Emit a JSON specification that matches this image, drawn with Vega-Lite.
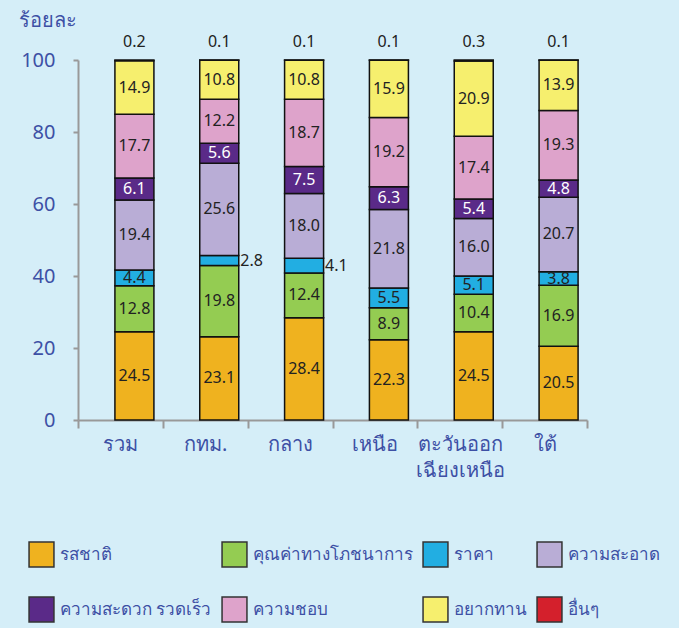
{
  "$schema": "https://vega.github.io/schema/vega-lite/v6.json",
  "width": 509,
  "height": 360,
  "autosize": {"type": "none"},
  "padding": {"left": 78, "top": 60, "right": 92, "bottom": 208},
  "background": "#d5eef8",
  "config": {
    "view": {"stroke": null},
    "font": "Noto Sans",
    "axis": {"labelFont": "Noto Sans", "titleFont": "Noto Sans"}
  },
  "data": {
    "values": [
      {"r": "รวม", "s": "รสชาติ", "v": 24.5},
      {"r": "รวม", "s": "คุณค่าทางโภชนาการ", "v": 12.8},
      {"r": "รวม", "s": "ราคา", "v": 4.4},
      {"r": "รวม", "s": "ความสะอาด", "v": 19.4},
      {"r": "รวม", "s": "ความสะดวก รวดเร็ว", "v": 6.1},
      {"r": "รวม", "s": "ความชอบ", "v": 17.7},
      {"r": "รวม", "s": "อยากทาน", "v": 14.9},
      {"r": "รวม", "s": "อื่นๆ", "v": 0.2},
      {"r": "กทม.", "s": "รสชาติ", "v": 23.1},
      {"r": "กทม.", "s": "คุณค่าทางโภชนาการ", "v": 19.8},
      {"r": "กทม.", "s": "ราคา", "v": 2.8},
      {"r": "กทม.", "s": "ความสะอาด", "v": 25.6},
      {"r": "กทม.", "s": "ความสะดวก รวดเร็ว", "v": 5.6},
      {"r": "กทม.", "s": "ความชอบ", "v": 12.2},
      {"r": "กทม.", "s": "อยากทาน", "v": 10.8},
      {"r": "กทม.", "s": "อื่นๆ", "v": 0.1},
      {"r": "กลาง", "s": "รสชาติ", "v": 28.4},
      {"r": "กลาง", "s": "คุณค่าทางโภชนาการ", "v": 12.4},
      {"r": "กลาง", "s": "ราคา", "v": 4.1},
      {"r": "กลาง", "s": "ความสะอาด", "v": 18.0},
      {"r": "กลาง", "s": "ความสะดวก รวดเร็ว", "v": 7.5},
      {"r": "กลาง", "s": "ความชอบ", "v": 18.7},
      {"r": "กลาง", "s": "อยากทาน", "v": 10.8},
      {"r": "กลาง", "s": "อื่นๆ", "v": 0.1},
      {"r": "เหนือ", "s": "รสชาติ", "v": 22.3},
      {"r": "เหนือ", "s": "คุณค่าทางโภชนาการ", "v": 8.9},
      {"r": "เหนือ", "s": "ราคา", "v": 5.5},
      {"r": "เหนือ", "s": "ความสะอาด", "v": 21.8},
      {"r": "เหนือ", "s": "ความสะดวก รวดเร็ว", "v": 6.3},
      {"r": "เหนือ", "s": "ความชอบ", "v": 19.2},
      {"r": "เหนือ", "s": "อยากทาน", "v": 15.9},
      {"r": "เหนือ", "s": "อื่นๆ", "v": 0.1},
      {"r": "ตะวันออกเฉียงเหนือ", "s": "รสชาติ", "v": 24.5},
      {"r": "ตะวันออกเฉียงเหนือ", "s": "คุณค่าทางโภชนาการ", "v": 10.4},
      {"r": "ตะวันออกเฉียงเหนือ", "s": "ราคา", "v": 5.1},
      {"r": "ตะวันออกเฉียงเหนือ", "s": "ความสะอาด", "v": 16.0},
      {"r": "ตะวันออกเฉียงเหนือ", "s": "ความสะดวก รวดเร็ว", "v": 5.4},
      {"r": "ตะวันออกเฉียงเหนือ", "s": "ความชอบ", "v": 17.4},
      {"r": "ตะวันออกเฉียงเหนือ", "s": "อยากทาน", "v": 20.9},
      {"r": "ตะวันออกเฉียงเหนือ", "s": "อื่นๆ", "v": 0.3},
      {"r": "ใต้", "s": "รสชาติ", "v": 20.5},
      {"r": "ใต้", "s": "คุณค่าทางโภชนาการ", "v": 16.9},
      {"r": "ใต้", "s": "ราคา", "v": 3.8},
      {"r": "ใต้", "s": "ความสะอาด", "v": 20.7},
      {"r": "ใต้", "s": "ความสะดวก รวดเร็ว", "v": 4.8},
      {"r": "ใต้", "s": "ความชอบ", "v": 19.3},
      {"r": "ใต้", "s": "อยากทาน", "v": 13.9},
      {"r": "ใต้", "s": "อื่นๆ", "v": 0.1}
    ]
  },
  "transform": [
    {"calculate": "indexof(['รสชาติ','คุณค่าทางโภชนาการ','ราคา','ความสะอาด','ความสะดวก รวดเร็ว','ความชอบ','อยากทาน','อื่นๆ'], datum.s)", "as": "k"},
    {"stack": "v", "groupby": ["r"], "sort": [{"field": "k", "order": "ascending"}], "as": ["y0", "y1"]},
    {"calculate": "(datum.y0 + datum.y1) / 2", "as": "mid"}
  ],
  "encoding": {
    "x": {
      "field": "r",
      "type": "nominal",
      "sort": ["รวม", "กทม.", "กลาง", "เหนือ", "ตะวันออกเฉียงเหนือ", "ใต้"],
      "scale": {"paddingInner": 0, "paddingOuter": 0},
      "axis": {
        "title": null,
        "labelAngle": 0,
        "labelFontSize": 20,
        "labelColor": "#3d50a5",
        "labelPadding": 6,
        "labelLineHeight": 26,
        "labelExpr": "datum.label == 'ตะวันออกเฉียงเหนือ' ? ['ตะวันออก', 'เฉียงเหนือ'] : datum.label",
        "tickBand": "extent",
        "tickSize": 8,
        "tickColor": "#999",
        "tickWidth": 2,
        "domainColor": "#999",
        "domainWidth": 2
      }
    }
  },
  "layer": [
    {
      "mark": {"type": "bar", "width": 39, "xOffset": 14, "stroke": "#111", "strokeWidth": 1.5},
      "encoding": {
        "y": {
          "field": "y0",
          "type": "quantitative",
          "scale": {"domain": [0, 100]},
          "axis": {
            "title": "ร้อยละ",
            "titleAngle": 0,
            "titleAlign": "left",
            "titleBaseline": "middle",
            "titleX": -60,
            "titleY": -40,
            "titleFontSize": 20,
            "titleFontWeight": "normal",
            "titleColor": "#3d50a5",
            "values": [0, 20, 40, 60, 80, 100],
            "labelFontSize": 20,
            "labelColor": "#3d50a5",
            "labelPadding": 18,
            "tickSize": 5,
            "tickColor": "#999",
            "tickWidth": 2,
            "domainColor": "#999",
            "domainWidth": 2,
            "grid": false
          }
        },
        "y2": {"field": "y1"},
        "color": {
          "field": "s",
          "type": "nominal",
          "scale": {
            "domain": ["รสชาติ", "คุณค่าทางโภชนาการ", "ราคา", "ความสะอาด", "ความสะดวก รวดเร็ว", "ความชอบ", "อยากทาน", "อื่นๆ"],
            "range": ["#efb21f", "#94cc52", "#22aee2", "#b9add6", "#5a2a88", "#dea3cb", "#f6ef6e", "#d4202c"]
          },
          "legend": {
            "title": null,
            "orient": "none",
            "direction": "horizontal",
            "legendX": -50,
            "legendY": 481,
            "columns": 4,
            "symbolType": "square",
            "symbolSize": 620,
            "symbolStrokeColor": "#333",
            "symbolStrokeWidth": 1.5,
            "labelFontSize": 17,
            "labelColor": "#3d50a5",
            "labelOffset": 5,
            "columnPadding": 7,
            "rowPadding": 24,
            "labelLimit": 300
          }
        }
      }
    },
    {
      "transform": [
        {"filter": "datum.s != 'อื่นๆ' && !(datum.s == 'ราคา' && (datum.r == 'กทม.' || datum.r == 'กลาง'))"}
      ],
      "mark": {"type": "text", "xOffset": 14, "fontSize": 16, "baseline": "middle", "align": "center"},
      "encoding": {
        "y": {"field": "mid", "type": "quantitative"},
        "text": {"field": "v", "type": "quantitative", "format": ".1f"},
        "color": {"condition": {"test": "datum.s == 'ความสะดวก รวดเร็ว'", "value": "#ffffff"}, "value": "#222222"}
      }
    },
    {
      "transform": [
        {"filter": "datum.s == 'ราคา' && (datum.r == 'กทม.' || datum.r == 'กลาง')"}
      ],
      "mark": {"type": "text", "xOffset": 35, "fontSize": 16, "baseline": "middle", "align": "left", "color": "#222222"},
      "encoding": {
        "y": {"field": "mid", "type": "quantitative"},
        "text": {"field": "v", "type": "quantitative", "format": ".1f"}
      }
    },
    {
      "transform": [{"filter": "datum.s == 'อื่นๆ'"}],
      "mark": {"type": "text", "xOffset": 14, "dy": -18, "fontSize": 16, "baseline": "middle", "align": "center", "color": "#222222"},
      "encoding": {
        "y": {"field": "y1", "type": "quantitative"},
        "text": {"field": "v", "type": "quantitative", "format": ".1f"}
      }
    }
  ]
}
